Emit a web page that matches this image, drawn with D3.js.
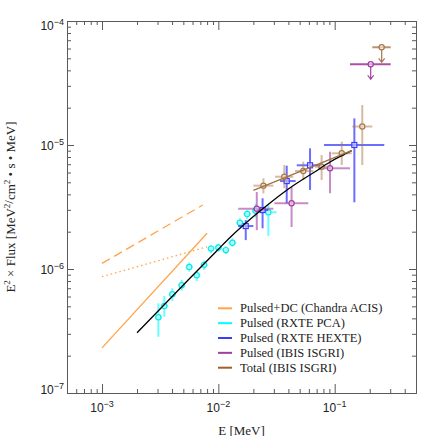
<!DOCTYPE html>
<html><head><meta charset="utf-8">
<script src="https://cdn.jsdelivr.net/npm/d3@7"></script>
<style>body{margin:0;background:#fff}</style>
</head><body><svg id="c" width="436" height="436"></svg>
<script>
// ---------------- data ----------------
const xDomain = [5e-4, 0.5];
const yDomain = [1e-7, 1e-4];
const xMajorTicks = [1e-3, 1e-2, 1e-1];
const xTickExp = ["−3", "−2", "−1"];
const yMajorTicks = [1e-7, 1e-6, 1e-5, 1e-4];
const yTickExp = ["−7", "−6", "−5", "−4"];

// Chandra ACIS (Pulsed+DC) model lines
const acisSolidE = [1e-3, 8e-3],   acisSolidF = [2.31e-7, 1.94e-6];
const acisDashE = [1e-3, 7.35e-3], acisDashF = [1.11e-6, 3.28e-6];
const acisDotE = [1e-3, 8e-3],     acisDotF = [8.67e-7, 1.51e-6];

// RXTE PCA pulsed
const pcaE   = [3.05e-3, 3.43e-3, 4.02e-3, 4.84e-3, 5.62e-3, 6.52e-3, 7.54e-3, 8.65e-3, 1.0e-2, 1.16e-2, 1.32e-2, 1.53e-2, 1.77e-2, 2.09e-2, 2.69e-2];
const pcaElo = [2.85e-3, 3.20e-3, 3.75e-3, 4.51e-3, 5.24e-3, 6.08e-3, 7.03e-3, 8.07e-3, 9.33e-3, 1.08e-2, 1.22e-2, 1.42e-2, 1.64e-2, 1.94e-2, 2.36e-2];
const pcaEhi = [3.27e-3, 3.68e-3, 4.31e-3, 5.19e-3, 6.02e-3, 6.99e-3, 8.08e-3, 9.27e-3, 1.072e-2, 1.24e-2, 1.43e-2, 1.65e-2, 1.91e-2, 2.26e-2, 3.17e-2];
const pcaF   = [4.08e-7, 5.03e-7, 6.25e-7, 7.39e-7, 1.04e-6, 8.90e-7, 1.08e-6, 1.46e-6, 1.49e-6, 1.42e-6, 1.63e-6, 2.36e-6, 2.78e-6, 2.95e-6, 2.87e-6];
const pcaFlo = [2.84e-7, 4.12e-7, 5.52e-7, 6.68e-7, 9.51e-7, 8.00e-7, 9.82e-7, 1.34e-6, 1.38e-6, 1.32e-6, 1.51e-6, 2.17e-6, 2.52e-6, 2.60e-6, 1.85e-6];
const pcaFhi = [5.29e-7, 6.06e-7, 6.99e-7, 8.15e-7, 1.13e-6, 9.69e-7, 1.17e-6, 1.56e-6, 1.60e-6, 1.52e-6, 1.77e-6, 2.56e-6, 2.99e-6, 3.35e-6, 3.30e-6];

// RXTE HEXTE pulsed
const hexE   = [1.72e-2, 2.40e-2, 3.87e-2, 6.14e-2, 0.1476];
const hexElo = [1.48e-2, 2.14e-2, 3.39e-2, 4.72e-2, 8.09e-2];
const hexEhi = [2.00e-2, 2.69e-2, 4.62e-2, 7.73e-2, 0.267];
const hexF   = [2.22e-6, 2.99e-6, 5.12e-6, 6.86e-6, 1.0e-5];
const hexFlo = [1.71e-6, 2.13e-6, 3.39e-6, 4.34e-6, 3.45e-6];
const hexFhi = [2.48e-6, 3.72e-6, 6.81e-6, 9.40e-6, 1.64e-5];

// IBIS ISGRI pulsed
const isgE   = [2.14e-2, 4.26e-2, 9.12e-2];
const isgElo = [1.48e-2, 3.03e-2, 7.23e-2];
const isgEhi = [2.97e-2, 5.93e-2, 0.1354];
const isgF   = [3.06e-6, 3.39e-6, 6.49e-6];
const isgFlo = [2.06e-6, 2.18e-6, 4.08e-6];
const isgFhi = [4.18e-6, 4.59e-6, 8.83e-6];
const isgUlE = [0.204], isgUlElo = [0.1354], isgUlEhi = [0.303], isgUlF = [4.48e-5];

// IBIS ISGRI total
const totE   = [2.44e-2, 3.69e-2, 5.37e-2, 7.72e-2, 0.115, 0.1726];
const totElo = [2.00e-2, 3.07e-2, 4.56e-2, 6.78e-2, 9.43e-2, 0.1417];
const totEhi = [2.97e-2, 4.41e-2, 6.55e-2, 8.81e-2, 0.140, 0.2106];
const totF   = [4.70e-6, 5.55e-6, 6.17e-6, 6.68e-6, 8.57e-6, 1.41e-5];
const totFlo = [4.08e-6, 4.48e-6, 5.22e-6, 5.22e-6, 6.90e-6, 6.90e-6];
const totFhi = [5.39e-6, 6.90e-6, 7.33e-6, 8.30e-6, 1.063e-5, 2.10e-5];
const totUlE = [0.2535], totUlElo = [0.2106], totUlEhi = [0.303], totUlF = [6.14e-5];

// fitted models
const pulsedFitE = [2.0e-3, 5.0e-3, 1.0e-2, 1.26e-2, 2.0e-2, 2.78e-2, 4.0e-2, 6.78e-2, 9.12e-2, 0.140];
const pulsedFitF = [3.06e-7, 7.43e-7, 1.444e-6, 1.795e-6, 2.65e-6, 3.41e-6, 4.42e-6, 6.09e-6, 7.29e-6, 9.0e-6];
const totalFitE = [2.0e-2, 0.140];
const totalFitF = [4.3e-6, 9.0e-6];

const legendLabels = ["Pulsed+DC (Chandra ACIS)", "Pulsed (RXTE PCA)", "Pulsed (RXTE HEXTE)", "Pulsed (IBIS ISGRI)", "Total (IBIS ISGRI)"];

// ---------------- styles ----------------
const C = {
  orange: "#ffa448", cyan: "#00ffff", cyanDark: "#10e8e8", blue: "#3c3cff", purple: "#a23ea2",
  brown: "#a8784a", legendBrown: "#a0602a", axis: "#5a5a5a", text: "#222"
};
const L = 67, R = 416, T = 21, B = 393;

const svg = d3.select("#c");
svg.append("rect").attr("width", 436).attr("height", 436).attr("fill", "#fff");
const x = d3.scaleLog().domain(xDomain).range([L, R]);
const y = d3.scaleLog().domain(yDomain).range([B, T]);

// ---------------- axes ----------------
const isMajor = v => Math.abs(Math.log10(v) - Math.round(Math.log10(v))) < 1e-9;
const xAll = x.ticks().filter(v => v >= xDomain[0] * 0.999 && v <= xDomain[1] * 1.001);
const yAll = y.ticks();
const xMinor = xAll.filter(v => !isMajor(v)), yMinor = yAll.filter(v => !isMajor(v));

function styleAxis(g) {
  g.selectAll("path, line").attr("stroke", C.axis).attr("stroke-width", 1);
  g.selectAll("text").remove();
}
const ax = (fn, scale, vals, size, tr) => svg.append("g").attr("transform", tr)
  .call(fn(scale).tickValues(vals).tickSizeInner(-size).tickSizeOuter(0).tickFormat(""))
  .call(styleAxis);
ax(d3.axisBottom, x, xMinor, 4, `translate(0,${B})`);
ax(d3.axisBottom, x, xMajorTicks, 9, `translate(0,${B})`);
ax(d3.axisTop, x, xMinor, 4, `translate(0,${T})`);
ax(d3.axisTop, x, xMajorTicks, 9, `translate(0,${T})`);
ax(d3.axisLeft, y, yMinor, 4, `translate(${L},0)`);
ax(d3.axisLeft, y, yMajorTicks, 7, `translate(${L},0)`);
ax(d3.axisRight, y, yMinor, 4, `translate(${R},0)`);
ax(d3.axisRight, y, yMajorTicks, 7, `translate(${R},0)`);

const tickFont = "'Liberation Sans', Arial, sans-serif";
xMajorTicks.forEach((v, i) => {
  const t = svg.append("text").attr("x", x(v)).attr("y", 411.5).attr("text-anchor", "middle")
    .attr("font-family", tickFont).attr("font-size", 12).attr("fill", C.text);
  t.append("tspan").text("10");
  t.append("tspan").attr("dy", -5).attr("font-size", 9).text(xTickExp[i]);
});
yMajorTicks.forEach((v, i) => {
  const base = Math.min(Math.max(y(v) + 5, T + 8.5), B + 1);
  const t = svg.append("text").attr("x", 64).attr("y", base).attr("text-anchor", "end")
    .attr("font-family", tickFont).attr("font-size", 12).attr("fill", C.text);
  t.append("tspan").text("10");
  t.append("tspan").attr("dy", -5).attr("font-size", 9).text(yTickExp[i]);
});

const serif = "'Liberation Serif', 'Times New Roman', serif";
svg.append("text").attr("x", (L + R) / 2).attr("y", 434.5).attr("text-anchor", "middle")
  .attr("font-family", serif).attr("font-size", 13).attr("fill", C.text).text("E [MeV]");

const yt = svg.append("text").attr("transform", `translate(15,${(T + B) / 2}) rotate(-90)`)
  .attr("text-anchor", "middle").attr("font-family", serif).attr("font-size", 13).attr("fill", C.text);
yt.append("tspan").text("E");
yt.append("tspan").attr("dy", -5).attr("font-size", 9).text("2");
yt.append("tspan").attr("dy", 5).text(" × Flux [MeV");
yt.append("tspan").attr("dy", -5).attr("font-size", 9).text("2");
yt.append("tspan").attr("dy", 3).text("/");
yt.append("tspan").attr("dy", 2).text("cm");
yt.append("tspan").attr("dy", -5).attr("font-size", 9).text("2");
yt.append("tspan").attr("dy", 5).text(" • s • MeV]");

// ---------------- plot ----------------
const plot = svg.append("g");
const line = d3.line().x(d => x(d[0])).y(d => y(d[1]));
const zip = (a, b) => a.map((v, i) => [v, b[i]]);

plot.append("path").attr("d", line(zip(acisSolidE, acisSolidF))).attr("fill", "none")
  .attr("stroke", C.orange).attr("stroke-width", 1.3);
plot.append("path").attr("d", line(zip(acisDashE, acisDashF))).attr("fill", "none")
  .attr("stroke", C.orange).attr("stroke-width", 1.3).attr("stroke-dasharray", "9,5");
plot.append("path").attr("d", line(zip(acisDotE, acisDotF))).attr("fill", "none")
  .attr("stroke", C.orange).attr("stroke-width", 1.3).attr("stroke-dasharray", "1.5,3");

function errSeries(E, Elo, Ehi, F, Flo, Fhi, color, barOp, marker, fillOp, mColor) {
  const g = plot.append("g");
  mColor = mColor || color;
  E.forEach((e, i) => {
    g.append("line").attr("x1", x(Elo[i])).attr("x2", x(Ehi[i])).attr("y1", y(F[i])).attr("y2", y(F[i]))
      .attr("stroke", color).attr("stroke-width", 2).attr("stroke-opacity", barOp);
    if (Flo)
      g.append("line").attr("x1", x(e)).attr("x2", x(e)).attr("y1", y(Flo[i])).attr("y2", y(Fhi[i]))
        .attr("stroke", color).attr("stroke-width", 2).attr("stroke-opacity", barOp);
  });
  E.forEach((e, i) => {
    if (marker === "square")
      g.append("rect").attr("x", x(e) - 2.5).attr("y", y(F[i]) - 2.5).attr("width", 5).attr("height", 5)
        .attr("fill", "#fff").attr("fill-opacity", fillOp).attr("stroke", mColor).attr("stroke-width", 1.2);
    else
      g.append("circle").attr("cx", x(e)).attr("cy", y(F[i])).attr("r", 2.6)
        .attr("fill", "#fff").attr("fill-opacity", fillOp).attr("stroke", mColor).attr("stroke-width", 1.2);
  });
  return g;
}
errSeries(pcaE, pcaElo, pcaEhi, pcaF, pcaFlo, pcaFhi, C.cyan, 0.6, "circle", 0.55, C.cyanDark);
errSeries(hexE, hexElo, hexEhi, hexF, hexFlo, hexFhi, C.blue, 0.75, "square", 0.5);
errSeries(isgE, isgElo, isgEhi, isgF, isgFlo, isgFhi, C.purple, 0.6, "circle", 0.5);
errSeries(totE, totElo, totEhi, totF, totFlo, totFhi, C.brown, 0.5, "circle", 0.5);

function upperLimit(E, Elo, Ehi, F, color, barOp) {
  const g = errSeries(E, Elo, Ehi, F, null, null, color, barOp, "circle", 0.5);
  E.forEach((e, i) => {
    const x0 = x(e), y0 = y(F[i]), y1 = y0 + 15;
    g.append("path").attr("d", `M${x0},${y0 + 2.6}V${y1}M${x0 - 3},${y1 - 4}L${x0},${y1}L${x0 + 3},${y1 - 4}`)
      .attr("fill", "none").attr("stroke", color).attr("stroke-width", 1.2);
  });
}
upperLimit(totUlE, totUlElo, totUlEhi, totUlF, C.brown, 0.8);
upperLimit(isgUlE, isgUlElo, isgUlEhi, isgUlF, C.purple, 0.9);

plot.append("path").attr("d", line.curve(d3.curveMonotoneX)(zip(pulsedFitE, pulsedFitF))).attr("fill", "none")
  .attr("stroke", "#000").attr("stroke-width", 1.3);
plot.append("path").attr("d", d3.line().x(d => x(d[0])).y(d => y(d[1]))(zip(totalFitE, totalFitF)))
  .attr("fill", "none").attr("stroke", "#a0703c").attr("stroke-width", 1.3);

// ---------------- legend ----------------
const legColors = [C.orange, C.cyan, C.blue, C.purple, C.legendBrown];
legendLabels.forEach((lab, i) => {
  const yy = 308.3 + i * 14.85;
  svg.append("line").attr("x1", 218).attr("x2", 232).attr("y1", yy).attr("y2", yy)
    .attr("stroke", legColors[i]).attr("stroke-width", 2);
  svg.append("text").attr("x", 240).attr("y", yy + 3.8).attr("font-family", serif)
    .attr("font-size", 12.5).attr("fill", C.text).text(lab);
});
</script></body></html>
